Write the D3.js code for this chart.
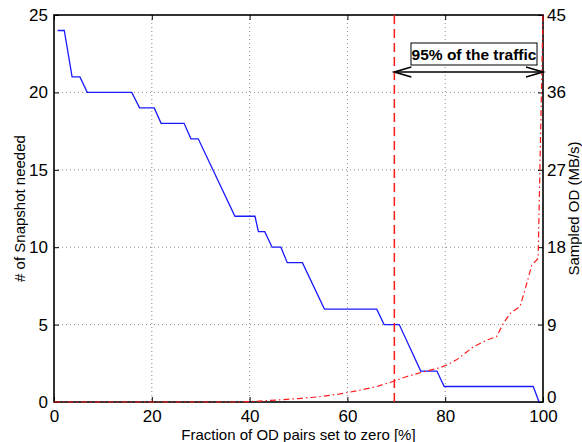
<!DOCTYPE html>
<html>
<head>
<meta charset="utf-8">
<script src="https://cdn.jsdelivr.net/npm/d3@7/dist/d3.min.js"></script>
<style>
  html, body { margin: 0; padding: 0; background: #fff; }
  svg text { font-family: "Liberation Sans", Arial, Helvetica, sans-serif; }
</style>
</head>
<body>
<svg id="chart" width="582" height="442"></svg>
<script>
// Fraction of OD pairs set to zero [%] vs. number of snapshots needed (left axis)
const snapX = [0.75, 2.1, 3.7, 5.3, 6.8, 15.9, 17.5, 20.5, 21.9, 26.6, 28.0, 29.5, 37.0, 41.1, 41.8, 43.1, 44.6, 46.4, 47.7, 50.8, 55.3, 66.0, 67.5, 70.6, 75.0, 78.3, 79.8, 98.0, 99.2];
const snapY = [24, 24, 21, 21, 20, 20, 19, 19, 18, 18, 17, 17, 12, 12, 11, 11, 10, 10, 9, 9, 6, 6, 5, 5, 2, 2, 1, 1, 0];

// Sampled OD volume in MB/s (right axis)
const odX = [0, 38, 42, 46, 50, 54, 58, 62, 66, 69.6, 72, 75.5, 79, 80.3, 82.3, 83.7, 85.7, 88.5, 90.5, 91.9, 93.3, 95.3, 96.3, 97.7, 99, 100];
const odY = [0, 0, 0.1, 0.25, 0.4, 0.6, 0.9, 1.3, 1.8, 2.44, 2.94, 3.5, 4.0, 4.3, 4.9, 5.5, 6.4, 7.2, 7.6, 9.15, 10.3, 11.1, 13.0, 15.9, 16.7, 45];

// Ticks
const xTicks = [0, 20, 40, 60, 80, 100];
const leftTicks = [0, 5, 10, 15, 20, 25];
const rightTicks = [0, 9, 18, 27, 36, 45];

// Threshold covering 95% of the traffic
const trafficCut = 69.6;
const trafficLabel = "95% of the traffic";

const svg = d3.select("#chart");
const L = 54, R = 543, T = 15, B = 402;

const x = d3.scaleLinear().domain([0, 100]).range([L, R]);
const yL = d3.scaleLinear().domain([0, 25]).range([B, T]);
const yR = d3.scaleLinear().domain([0, 45]).range([B, T]);

// Dotted grid
const grid = svg.append("g");
xTicks.filter(v => v > 0 && v < 100).forEach(v => {
  grid.append("line").attr("x1", x(v)).attr("x2", x(v)).attr("y1", T).attr("y2", B)
    .attr("stroke", "#8a8a8a").attr("stroke-width", 1).attr("stroke-dasharray", "1,3");
});
leftTicks.filter(v => v > 0 && v < 25).forEach(v => {
  grid.append("line").attr("x1", L).attr("x2", R).attr("y1", yL(v)).attr("y2", yL(v))
    .attr("stroke", "#8a8a8a").attr("stroke-width", 1).attr("stroke-dasharray", "1,3");
});

// Axes with inward ticks
const tickLen = 5;
const fmt = d3.format("d");
const axB = svg.append("g").attr("transform", `translate(0,${B})`)
  .call(d3.axisBottom(x).tickValues(xTicks).tickSize(-tickLen).tickPadding(8).tickFormat(fmt));
const axT = svg.append("g").attr("transform", `translate(0,${T})`)
  .call(d3.axisTop(x).tickValues(xTicks).tickSize(-tickLen).tickFormat(""));
const axL = svg.append("g").attr("transform", `translate(${L},0)`)
  .call(d3.axisLeft(yL).tickValues(leftTicks).tickSize(-tickLen).tickPadding(6).tickFormat(fmt));
const axR = svg.append("g").attr("transform", `translate(${R},0)`)
  .call(d3.axisRight(yR).tickValues(rightTicks).tickSize(-tickLen).tickPadding(4).tickFormat(fmt));

[axB, axT, axL, axR].forEach(a => {
  a.select(".domain").remove();
  a.selectAll(".tick line").attr("stroke", "#000").attr("stroke-width", 1);
  a.selectAll(".tick text").attr("font-size", 17).attr("fill", "#000")
    .attr("font-family", "Liberation Sans, Arial, sans-serif");
});
axR.selectAll(".tick text").filter(d => d === 0).attr("dy", "0.02em");

// Frame
svg.append("rect").attr("x", L).attr("y", T).attr("width", R - L).attr("height", B - T)
  .attr("fill", "none").attr("stroke", "#000").attr("stroke-width", 1.6);

// Snapshot curve
const lineL = d3.line().x((d, i) => x(snapX[i])).y(d => yL(d));
svg.append("path").datum(snapY).attr("d", lineL)
  .attr("fill", "none").attr("stroke", "#1a1aff").attr("stroke-width", 1.3);

// Sampled OD curve (dash-dot)
const lineR = d3.line().x((d, i) => x(odX[i])).y(d => yR(d));
svg.append("path").datum(odY).attr("d", lineR)
  .attr("fill", "none").attr("stroke", "#ff1a1a").attr("stroke-width", 1.2)
  .attr("stroke-dasharray", "6,3,1.5,3");

// 95% traffic threshold
svg.append("line").attr("x1", x(trafficCut)).attr("x2", x(trafficCut)).attr("y1", T).attr("y2", B)
  .attr("stroke", "#ff1a1a").attr("stroke-width", 1.5).attr("stroke-dasharray", "9,5");

// Double-headed arrow
const ay = 72;
const ax0 = x(trafficCut), ax1 = x(100);
const arrow = svg.append("g").attr("stroke", "#000").attr("stroke-width", 1.6).attr("fill", "none");
arrow.append("line").attr("x1", ax0).attr("x2", ax1).attr("y1", ay).attr("y2", ay);
arrow.append("path").attr("d", `M${ax0 + 17},${ay - 5} L${ax0},${ay} L${ax0 + 17},${ay + 5}`);
arrow.append("path").attr("d", `M${ax1 - 17},${ay - 5} L${ax1},${ay} L${ax1 - 17},${ay + 5}`);

// Label box
const bx0 = 411, bx1 = 537, by0 = 43, by1 = 65;
svg.append("rect").attr("x", bx0).attr("y", by0).attr("width", bx1 - bx0).attr("height", by1 - by0)
  .attr("fill", "#fff").attr("stroke", "#000").attr("stroke-width", 1);
svg.append("text").attr("x", (bx0 + bx1) / 2).attr("y", 60).attr("text-anchor", "middle")
  .attr("font-size", 15.5).attr("font-weight", "bold").text(trafficLabel);

// Axis titles
svg.append("text").attr("x", (L + R) / 2).attr("y", 440).attr("text-anchor", "middle")
  .attr("font-size", 15).text("Fraction of OD pairs set to zero [%]");
svg.append("text").attr("transform", `translate(25,${(T + B) / 2}) rotate(-90)`)
  .attr("text-anchor", "middle").attr("font-size", 15).text("# of Snapshot needed");
svg.append("text").attr("transform", `translate(579,${(T + B) / 2}) rotate(-90)`)
  .attr("text-anchor", "middle").attr("font-size", 15).text("Sampled OD (MB/s)");
</script>
</body>
</html>
